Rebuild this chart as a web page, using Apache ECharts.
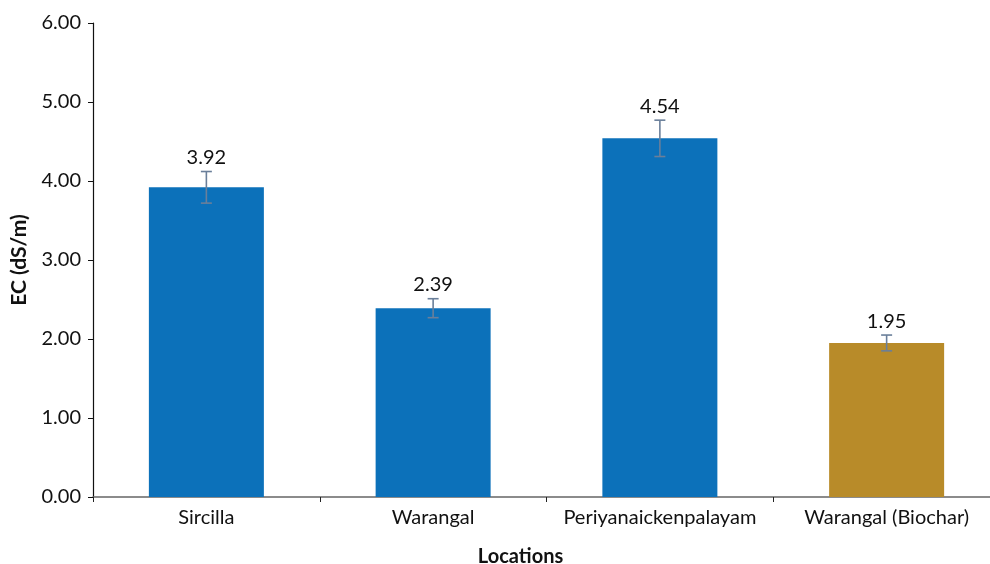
<!DOCTYPE html>
<html>
<head>
<meta charset="utf-8">
<script src="https://cdn.jsdelivr.net/npm/echarts@6/dist/echarts.min.js"></script>
<style>
  html, body { margin: 0; padding: 0; background: #fff; }
  #main { width: 990px; height: 564px; }
</style>
</head>
<body>
<div id="main"></div>
<script>
const locations = ["Sircilla", "Warangal", "Periyanaickenpalayam", "Warangal (Biochar)"];
const ecValues = [3.92, 2.39, 4.54, 1.95];
const ecErrors = [0.2, 0.12, 0.23, 0.1];
const barColors = ["#0c71ba", "#0c71ba", "#0c71ba", "#b88b29"];

const font = "Lato";
const chart = echarts.init(document.getElementById("main"));

const option = {
  backgroundColor: "#fff",
  animation: false,
  grid: { left: 93, width: 907, top: 23, bottom: 67, outerBoundsMode: "none" },
  xAxis: {
    type: "category",
    data: locations,
    name: "Locations",
    nameLocation: "middle",
    nameGap: 50,
    nameTextStyle: {
      fontFamily: font, fontSize: 20, fontWeight: "bold", color: "#111",
      padding: [0, 52, 0, 0]
    },
    axisLine: { lineStyle: { color: "#666", width: 1.5 } },
    axisTick: { show: true, length: 5, lineStyle: { color: "#222" } },
    axisLabel: { fontFamily: font, fontSize: 20, color: "#111", margin: 11, interval: 0 }
  },
  yAxis: {
    type: "value",
    min: 0,
    max: 6,
    interval: 1,
    name: "EC (dS/m)",
    nameLocation: "middle",
    nameGap: 63,
    nameTextStyle: { fontFamily: font, fontSize: 21, fontWeight: "bold", color: "#111" },
    axisLine: { show: true, lineStyle: { color: "#111", width: 1.2 } },
    axisTick: { show: true, length: 5, lineStyle: { color: "#111" } },
    axisLabel: {
      fontFamily: font, fontSize: 20, color: "#111", margin: 12,
      formatter: (v) => v.toFixed(2)
    },
    splitLine: { show: false }
  },
  series: [
    {
      type: "bar",
      barWidth: 115,
      data: ecValues.map((v, i) => ({ value: v, itemStyle: { color: barColors[i] } }))
    },
    {
      type: "custom",
      z: 5,
      data: ecValues.map((v, i) => [i, v - ecErrors[i], v + ecErrors[i], v]),
      renderItem: function (params, api) {
        const lo = api.coord([api.value(0), api.value(1)]);
        const hi = api.coord([api.value(0), api.value(2)]);
        const half = 5.5;
        const style = { stroke: "#6a7f9a", lineWidth: 1.6 };
        return {
          type: "group",
          children: [
            { type: "line", shape: { x1: hi[0], y1: hi[1], x2: lo[0], y2: lo[1] }, style: style },
            { type: "line", shape: { x1: hi[0] - half, y1: hi[1], x2: hi[0] + half, y2: hi[1] }, style: style },
            { type: "line", shape: { x1: lo[0] - half, y1: lo[1], x2: lo[0] + half, y2: lo[1] }, style: style },
            {
              type: "text",
              style: {
                text: api.value(3).toFixed(2),
                x: hi[0], y: hi[1] - 4,
                align: "center", verticalAlign: "bottom",
                font: "20px " + font, fill: "#111"
              }
            }
          ]
        };
      }
    }
  ]
};

chart.setOption(option);
</script>
</body>
</html>
